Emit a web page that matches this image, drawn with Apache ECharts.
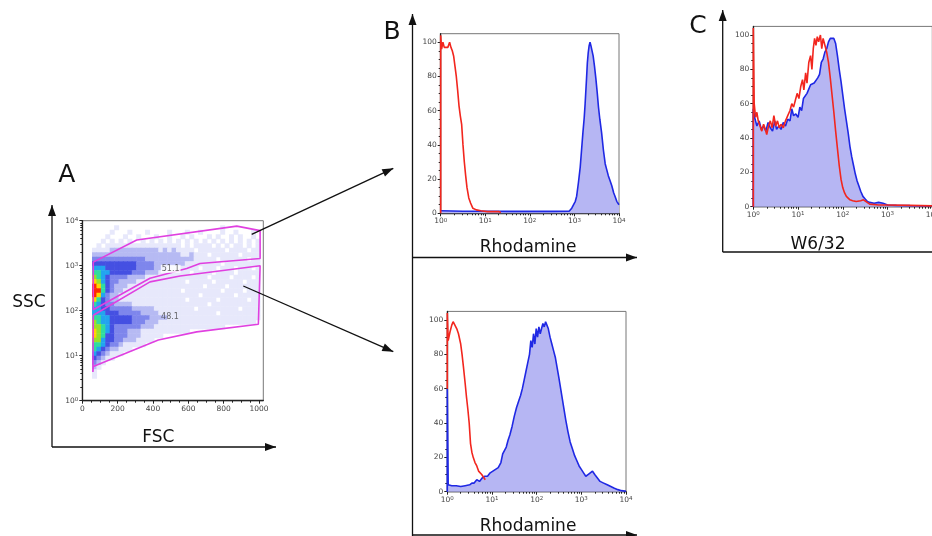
<!DOCTYPE html>
<html>
<head>
<meta charset="utf-8">
<script src="https://cdn.jsdelivr.net/npm/echarts@6/dist/echarts.min.js"></script>
<style>
html,body{margin:0;padding:0;background:#fff}
#chart{width:932px;height:536px}
</style>
</head>
<body>
<div id="chart"></div>
<script>
// ---- tick labels ----
var fscTicks = [0, 200, 400, 600, 800, 1000];
var decadeTicks = [0, 1, 2, 3, 4];
var pctTicks = [0, 20, 40, 60, 80, 100];

// ---- panel A: density of events, FSC bins of 25 from 55, log SSC rows of 0.1 from 4.0 down ----
var densityRows = [
	"00000000000000000000000000000000000000",
	"00000100000000000000000000000100000000",
	"00001000100010000100010010000100100010",
	"00010001001000100100101000101001010010",
	"00101010100101010101010101010101010101",
	"01011111111111111111010111101010110101",
	"11112222222222212121111011111101111011",
	"22222222222222222222112111011111101111",
	"33333333333322222222222111110111111011",
	"44444444443333222222211111111011111111",
	"55544444443333222111111101110111011101",
	"66554444433322211111110111101111011111",
	"76543333222211111111111111011110111101",
	"87543322221111111111101111101111110111",
	"98643222111111111111111110111101111111",
	"99643221111111111111011111111011110111",
	"98532211111111111111111101111111011111",
	"86432211111111111111101111110111111011",
	"65433222211111111111111111011111111111",
	"55443333322222111111111011111111101111",
	"55544433333222211111111111110111111111",
	"66554444433332222111111111111111111111",
	"76554444433322211111111111111111111110",
	"77654333333222111111111111111100000000",
	"87654333222111111111110000000000000000",
	"87644333222111110000000000000000000000",
	"77544332221111000000000000000000000000",
	"66543321111100000000000000000000000000",
	"65432211100000000000000000000000000000",
	"54321110000000000000000000000000000000",
	"43211000000000000000000000000000000000",
	"32100000000000000000000000000000000000",
	"21000000000000000000000000000000000000",
	"10000000000000000000000000000000000000",
	"10000000000000000000000000000000000000"
];
var densityColors = ['', '#e7e8fb', '#b6baf3', '#7e86ec', '#4550e2', '#22a4ef', '#30dca0', '#98e02a', '#ffd400', '#ff2a00'];

// gates (FSC, log10 SSC)
var gate511 = [[62,3.08],[308,3.57],[874,3.88],[1006,3.78],[1006,3.16],[666,3.05],[591,2.94],[383,2.72],[62,2.02],[62,3.08]];
var gate481 = [[62,1.90],[383,2.64],[553,2.77],[1006,3.0],[996,1.70],[647,1.53],[430,1.35],[62,0.76],[60,0.64],[62,1.90]];
var gateLabels = [[500,2.93,'51.1'],[496,1.86,'48.1']];

// ---- panel B top: Rhodamine, upper gate ----
var rhoHiRed = [[0,0],[0,104],[0.02,96],[0.05,100],[0.08,97],[0.12,98],[0.16,97],[0.2,100],[0.23,97],[0.26,95],[0.29,92],[0.32,86],[0.35,80],[0.38,72],[0.41,63],[0.44,57],[0.47,52],[0.5,40],[0.53,30],[0.56,22],[0.59,15],[0.63,9],[0.67,6],[0.72,3],[0.8,2],[0.9,1.5],[1.05,1],[1.3,1],[1.35,0.5]];
var rhoHiBlue = [[0,1.5],[0.5,1.2],[1,1.2],[1.5,1.1],[2,1.2],[2.5,1.1],[2.88,1.2],[2.94,3],[2.98,4],[3.02,7],[3.05,10],[3.09,18],[3.13,27],[3.16,37],[3.19,47],[3.22,56],[3.24,64],[3.27,78],[3.29,88],[3.31,94],[3.33,98],[3.35,100],[3.37,98],[3.39,97],[3.42,92],[3.45,86],[3.48,79],[3.51,71],[3.54,62],[3.57,55],[3.61,47],[3.65,37],[3.69,29],[3.72,26],[3.76,22],[3.8,19],[3.84,16],[3.88,12],[3.91,10],[3.95,7],[4,5]];

// ---- panel B bottom: Rhodamine, lower gate ----
var rhoLoRed = [[0,60],[0,104],[0.02,88],[0.06,93],[0.1,97],[0.13,99],[0.17,98],[0.21,95],[0.25,92],[0.3,86],[0.33,80],[0.36,73],[0.4,63],[0.43,55],[0.46,48],[0.49,40],[0.52,28],[0.55,23],[0.58,20],[0.62,17],[0.66,15],[0.7,12],[0.73,11],[0.77,10],[0.81,9],[0.85,7]];
var rhoLoBlue = [[0,0],[0,60],[0.02,4],[0.1,3.5],[0.2,3.5],[0.3,3],[0.4,3.5],[0.5,4],[0.55,5],[0.6,5],[0.66,7],[0.72,6],[0.78,8],[0.84,9],[0.9,9],[0.96,11],[1.02,12],[1.08,13],[1.14,14],[1.2,17],[1.24,22],[1.28,21],[1.32,26],[1.36,30],[1.4,33],[1.45,38],[1.5,44],[1.55,49],[1.6,53],[1.64,56],[1.68,60],[1.72,65],[1.76,70],[1.8,75],[1.84,80],[1.87,88],[1.9,84],[1.93,92],[1.96,86],[1.99,95],[2.02,90],[2.05,96],[2.08,92],[2.11,95],[2.14,98],[2.17,96],[2.2,99],[2.23,97],[2.26,95],[2.3,90],[2.34,86],[2.38,82],[2.42,78],[2.46,72],[2.5,66],[2.55,58],[2.6,50],[2.65,42],[2.7,35],[2.75,29],[2.8,25],[2.85,21],[2.9,18],[2.95,15],[3.0,13],[3.05,11],[3.1,9],[3.15,10],[3.2,11],[3.25,12],[3.3,10],[3.36,8],[3.42,6],[3.5,5],[3.58,4],[3.66,3],[3.74,2],[3.82,1.2],[3.9,0.6],[4,0.3]];

// ---- panel C: W6/32 ----
var w632Blue = [[0,0],[0,57],[0.03,52],[0.08,47],[0.13,50],[0.18,45],[0.23,47],[0.28,44],[0.33,49],[0.38,46],[0.43,44],[0.48,50],[0.52,45],[0.57,47],[0.62,45],[0.67,49],[0.72,47],[0.77,51],[0.82,50],[0.86,57],[0.9,53],[0.95,54],[1.0,52],[1.04,58],[1.08,56],[1.12,63],[1.16,62],[1.2,66],[1.24,67],[1.28,71],[1.32,70],[1.36,72],[1.4,73],[1.44,75],[1.48,77],[1.52,84],[1.56,86],[1.6,90],[1.64,92],[1.68,96],[1.72,98],[1.76,97],[1.8,98],[1.84,95],[1.88,88],[1.92,80],[1.96,73],[2.0,65],[2.04,57],[2.08,50],[2.12,43],[2.16,35],[2.2,29],[2.24,24],[2.28,19],[2.32,15],[2.36,12],[2.4,9],[2.45,6],[2.5,4.5],[2.55,3],[2.6,2.5],[2.7,2],[2.8,2.5],[2.9,2],[3.0,1],[3.2,0.8],[3.5,0.6],[3.8,0.5],[4,0.5]];
var w632Red = [[0,0],[0,104],[0.02,60],[0.05,52],[0.08,55],[0.11,50],[0.15,47],[0.19,44],[0.23,48],[0.27,45],[0.3,42],[0.34,47],[0.38,50],[0.42,46],[0.46,53],[0.5,47],[0.54,50],[0.58,46],[0.62,48],[0.67,46],[0.72,50],[0.77,53],[0.82,56],[0.86,60],[0.9,58],[0.94,62],[0.98,66],[1.02,63],[1.06,70],[1.1,74],[1.13,68],[1.17,78],[1.2,72],[1.24,84],[1.28,88],[1.31,80],[1.34,92],[1.37,98],[1.4,94],[1.43,99],[1.46,96],[1.5,100],[1.53,92],[1.56,98],[1.6,94],[1.64,90],[1.68,84],[1.72,75],[1.76,65],[1.8,55],[1.84,44],[1.88,34],[1.92,24],[1.96,16],[2.0,11],[2.04,8],[2.08,6],[2.12,5],[2.16,4],[2.22,3.5],[2.3,3],[2.4,3.5],[2.46,4],[2.52,3],[2.6,1.5],[2.8,1],[3.0,1],[3.5,0.8],[4,0.5]];

var FONT = 'DejaVu Sans';
var RED = '#f2261e', BLUE = '#1f28e4', FILL = '#b6b6f3', GATE = '#e040e0';

// minor tick positions
var logMinor = [];
for (var n = 0; n < 4; n++) for (var k = 2; k < 10; k++) logMinor.push(n + Math.log10(k));
var fscMinor = [];
for (var f = 0; f <= 1000; f += 50) fscMinor.push(f);
var pctMinor = [];
for (var p = 0; p <= 100; p += 5) pctMinor.push(p);

function sup(v){ return '10{s|' + v + '}'; }
function plain(v){ return String(v); }
var supRich = { s: { fontSize: 5.5, fontFamily: FONT, color: '#444', verticalAlign: 'top', lineHeight: 7 } };

var xAxes = [], yAxes = [];
function addX(gi, min, max, ticks, minor, fmt){
	xAxes.push({
		gridIndex: gi, type: 'value', min: min, max: max, position: 'bottom',
		axisLine: {show: true, onZero: false, lineStyle: {color: '#222', width: 1.3}},
		axisTick: {show: true, customValues: ticks, length: 3, lineStyle: {color: '#222', width: 1}},
		axisLabel: {show: true, customValues: ticks, formatter: fmt, fontFamily: FONT, fontSize: 7.5, color: '#444', margin: 4, rich: supRich},
		splitLine: {show: false}
	});
	xAxes.push({
		gridIndex: gi, type: 'value', min: min, max: max, position: 'bottom',
		axisLine: {show: false},
		axisTick: {show: true, customValues: minor, length: 2, lineStyle: {color: '#222', width: 1}},
		axisLabel: {show: false}, splitLine: {show: false}
	});
}
function addY(gi, min, max, ticks, minor, fmt){
	yAxes.push({
		gridIndex: gi, type: 'value', min: min, max: max, position: 'left',
		axisLine: {show: true, onZero: false, lineStyle: {color: '#222', width: 1.3}},
		axisTick: {show: true, customValues: ticks, length: 3, lineStyle: {color: '#222', width: 1}},
		axisLabel: {show: true, customValues: ticks, formatter: fmt, fontFamily: FONT, fontSize: 7.5, color: '#444', margin: 4, rich: supRich},
		splitLine: {show: false}
	});
	yAxes.push({
		gridIndex: gi, type: 'value', min: min, max: max, position: 'left',
		axisLine: {show: false},
		axisTick: {show: true, customValues: minor, length: 2, lineStyle: {color: '#222', width: 1}},
		axisLabel: {show: false}, splitLine: {show: false}
	});
}

var grids = [
	{left: 82.3, top: 220.7, width: 181, height: 180},
	{left: 440.7, top: 33.7, width: 178.3, height: 179.6},
	{left: 447.3, top: 311.4, width: 178.7, height: 180.3},
	{left: 753.3, top: 26.4, width: 179, height: 180.3}
].map(function(g){
	g.show = true; g.borderColor = '#777'; g.borderWidth = 1; g.backgroundColor = 'transparent';
	g.containLabel = false; g.outerBoundsMode = 'none';
	return g;
});

addX(0, 0, 1024, fscTicks, fscMinor, plain);
addY(0, 0, 4, decadeTicks, logMinor, sup);
for (var gi = 1; gi <= 3; gi++){
	addX(gi, 0, 4, decadeTicks, logMinor, sup);
	addY(gi, 0, 105, pctTicks, pctMinor, plain);
}

var densityData = [];
densityRows.forEach(function(row, r){
	var y0 = 3.9 - 0.1 * r;
	for (var c = 0; c < row.length; c++){
		var lvl = +row.charAt(c);
		if (lvl > 0) densityData.push([55 + 25 * c, y0, lvl]);
	}
});

function histLine(gi, data, color, area, z){
	var s = {
		type: 'line', xAxisIndex: gi * 2, yAxisIndex: gi * 2, data: data,
		showSymbol: false, symbol: 'none', smooth: false, z: z,
		lineStyle: {color: color, width: 1.6}, animation: false
	};
	if (area) s.areaStyle = {color: FILL, opacity: 1};
	return s;
}

var series = [
	{
		type: 'custom', xAxisIndex: 0, yAxisIndex: 0, data: densityData, clip: true, z: 1,
		encode: {x: 0, y: 1},
		renderItem: function(params, api){
			var x = api.value(0), y = api.value(1), lvl = api.value(2);
			var a = api.coord([x, y + 0.1]), b = api.coord([x + 25, y]);
			return {
				type: 'rect',
				shape: {x: a[0], y: a[1], width: b[0] - a[0] + 0.6, height: b[1] - a[1] + 0.6},
				style: {fill: densityColors[lvl]}
			};
		}
	},
	{type: 'line', xAxisIndex: 0, yAxisIndex: 0, data: gate511, symbol: 'none', z: 3, lineStyle: {color: GATE, width: 1.6}},
	{type: 'line', xAxisIndex: 0, yAxisIndex: 0, data: gate481, symbol: 'none', z: 3, lineStyle: {color: GATE, width: 1.6}},
	{
		type: 'scatter', xAxisIndex: 0, yAxisIndex: 0, z: 4, symbolSize: 1,
		itemStyle: {color: 'rgba(0,0,0,0)'},
		data: gateLabels.map(function(d, i){
			return {value: d, label: {backgroundColor: i === 0 ? '#fff' : 'transparent'}};
		}),
		label: {show: true, position: 'inside', formatter: function(p){ return p.value[2]; }, fontFamily: FONT, fontSize: 8, color: '#444', padding: [0, 1]}
	},
	histLine(1, rhoHiBlue, BLUE, true, 2),
	histLine(1, rhoHiRed, RED, false, 3),
	histLine(2, rhoLoBlue, BLUE, true, 2),
	histLine(2, rhoLoRed, RED, false, 3),
	histLine(3, w632Blue, BLUE, true, 2),
	histLine(3, w632Red, RED, false, 3)
];

function arrow(x1, y1, x2, y2, head){
	var out = [{type: 'line', z: 100, silent: true, shape: {x1: x1, y1: y1, x2: x2, y2: y2}, style: {stroke: '#111', lineWidth: 1.3}}];
	if (head){
		var dx = x2 - x1, dy = y2 - y1, L = Math.sqrt(dx * dx + dy * dy), ux = dx / L, uy = dy / L, h = 11, w = 4;
		var bx = x2 - ux * h, by = y2 - uy * h;
		out.push({type: 'polygon', z: 100, silent: true, shape: {points: [[x2, y2], [bx - uy * w, by + ux * w], [bx + uy * w, by - ux * w]]}, style: {fill: '#111'}});
	}
	return out;
}
function label(text, x, y, size){
	return {type: 'text', z: 100, silent: true, x: x, y: y, style: {text: text, fontFamily: FONT, fontSize: size, fill: '#111', align: 'center', verticalAlign: 'middle'}};
}

var graphics = [].concat(
	arrow(52, 447, 52, 205, true),
	arrow(52, 447, 276, 447, true),
	arrow(412.5, 536, 412.5, 14, true),
	arrow(412.5, 257.5, 637, 257.5, true),
	arrow(412.5, 535, 637, 535, true),
	arrow(722.7, 252, 722.7, 10, true),
	arrow(722.7, 252, 932, 252, false),
	arrow(251.7, 234.3, 393.3, 168.3, true),
	arrow(243.3, 286, 393.3, 351.7, true),
	[
		label('A', 66.7, 175, 25),
		label('B', 392, 32, 25),
		label('C', 698, 26, 25),
		label('SSC', 29, 303, 17),
		label('FSC', 158.3, 438, 17),
		label('Rhodamine', 528, 248, 17),
		label('Rhodamine', 528, 527, 17),
		label('W6/32', 818, 245, 17)
	]
);

var myChart = echarts.init(document.getElementById('chart'));
var option = {
	animation: false,
	backgroundColor: '#fff',
	grid: grids,
	xAxis: xAxes,
	yAxis: yAxes,
	series: series,
	graphic: graphics
};
myChart.setOption(option);
</script>
</body>
</html>
